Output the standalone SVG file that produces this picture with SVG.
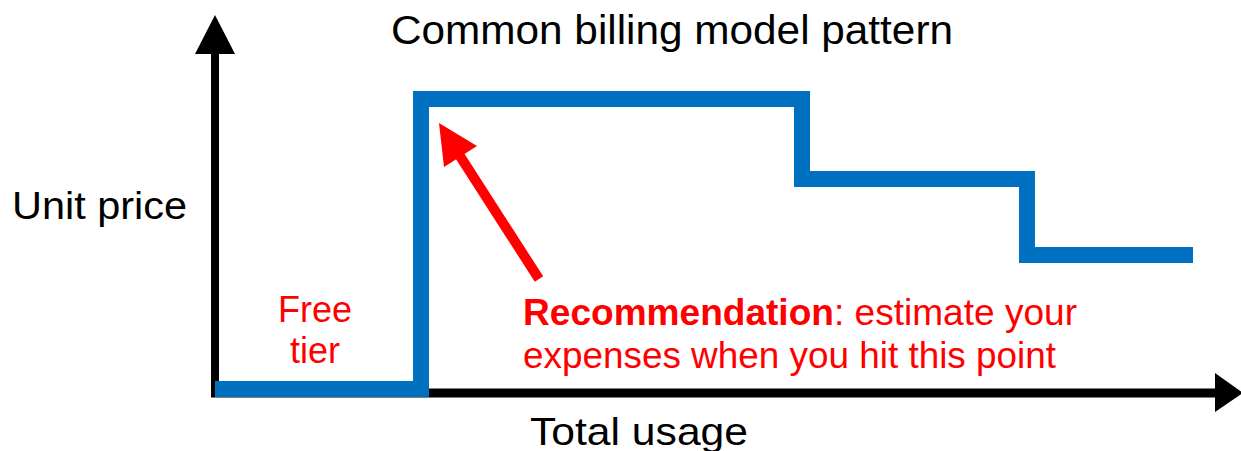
<svg xmlns="http://www.w3.org/2000/svg" width="1241" height="451" viewBox="0 0 1241 451">
<style>
.t{font-family:"Liberation Sans",Arial,sans-serif;}
.blk{fill:#000;}
.red{fill:#FF0000;}
</style>
<rect width="1241" height="451" fill="#fff"/>
<g id="connectors">
<line x1="215" y1="50" x2="215" y2="393" stroke="#000" stroke-width="8"/>
<polygon points="215,15 195,54 235,54" fill="#000"/>
<line x1="211" y1="393" x2="1218" y2="393" stroke="#000" stroke-width="9"/>
<polygon points="1243,393 1215,373 1215,412" fill="#000"/>
<path d="M215 389 H421 V99 H802 V179 H1027 V255 H1193" fill="none" stroke="#0070C0" stroke-width="16" stroke-linejoin="miter"/>
<line x1="539" y1="279" x2="458" y2="153" stroke="#FF0000" stroke-width="10"/>
<polygon points="439,123 477,146 444,167" fill="#FF0000"/>
</g>
<g id="title"><text class="t blk" x="391" y="44" font-size="41" textLength="562" lengthAdjust="spacingAndGlyphs">Common billing model pattern</text></g>
<g id="y-label"><text class="t blk" x="12" y="219" font-size="39" textLength="175" lengthAdjust="spacingAndGlyphs">Unit price</text></g>
<g id="x-label"><text class="t blk" x="530" y="445" font-size="39" textLength="218" lengthAdjust="spacingAndGlyphs">Total usage</text></g>
<g id="free-tier"><text class="t red" x="315" y="322" font-size="36" text-anchor="middle">Free</text><text class="t red" x="315" y="363" font-size="36" text-anchor="middle">tier</text></g>
<g id="recommendation"><text class="t red" x="523" y="325" font-size="36" textLength="554" lengthAdjust="spacingAndGlyphs"><tspan font-weight="bold">Recommendation</tspan>: estimate your</text><text class="t red" x="523" y="368" font-size="36" textLength="533" lengthAdjust="spacingAndGlyphs">expenses when you hit this point</text></g>
</svg>
